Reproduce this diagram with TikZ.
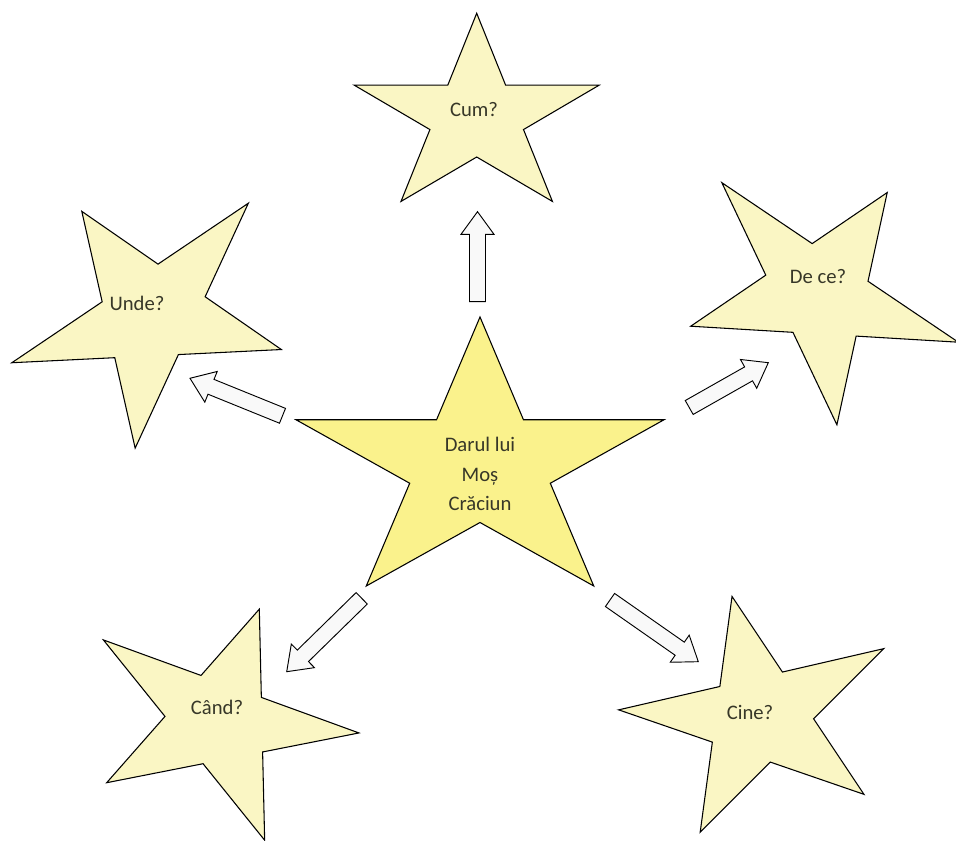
\documentclass[tikz,border=0pt]{standalone}
\usepackage{fontspec}
\setmainfont{Carlito}
\usetikzlibrary{calc}

\definecolor{galbenCentru}{RGB}{250,242,140}
\definecolor{galbenPal}{RGB}{250,246,196}
\definecolor{textStea}{RGB}{55,55,40}

% block arrow from #1 (tail) to #2 (tip)
\newcommand\sageata[2]{%
    \coordinate (cap) at ($(#2)!17pt!(#1)$);
    \draw[bloc] ($(#1)!6pt!90:(#2)$) -- ($(cap)!6pt!-90:(#1)$)
        -- ($(cap)!12.4pt!-90:(#1)$) -- (#2) -- ($(cap)!12.4pt!90:(#1)$)
        -- ($(cap)!6pt!90:(#1)$) -- ($(#1)!6pt!-90:(#2)$) -- cycle;
}

\begin{document}
\begin{tikzpicture}[
            x=0.75pt, y=0.75pt,
            stea/.style={
                draw=black,
                line width=0.8pt,
                line join=miter
            },
            eticheta/.style={
                font=\fontsize{15.5}{22}\selectfont,
                text=textStea,
                align=center,
                inner sep=0pt
            },
            bloc/.style={
                draw=black,
                line width=0.7pt,
                fill=gray!5,
                line join=miter
            }
        ]
            \useasboundingbox (0,0) rectangle (956,841);

            % stelele
            \foreach \cx/\cy/\rot/\rx/\ry/\fil in {
                480/375.3/0/193.5/148.7/galbenCentru,
                476.7/723.7/0/128.8/104/galbenPal,
                151.7/526/34/150/125/galbenPal,
                819/547.3/-34/150/122/galbenPal,
                218.6/120/-20/143/119/galbenPal,
                759.7/124.7/13/143/123/galbenPal} {
                \begin{scope}[shift={(\cx,\cy)}, rotate=\rot, xscale=\rx, yscale=\ry]
                    \draw[stea, fill=\fil] (90:1)
                        \foreach \k in {1,...,4} {-- ({54+72*\k}:0.382) -- ({90+72*\k}:1)}
                        -- (54:0.382) -- cycle;
                \end{scope}
            }

            \node[eticheta] (darul) at (480,367) {Darul lui\\Moș\\Crăciun};
            \foreach \nume/\x/\y/\text in {
                cum/474/731/Cum?,
                unde/137/538/Unde?,
                dece/818/564/De ce?,
                cand/217/134/Când?,
                cine/750/129/Cine?} {
                \node[eticheta] (\nume) at (\x,\y) {\text};
            }

            % sagetile
            \foreach \nume/\xa/\ya/\xb/\yb in {
                cum/477.5/539.3/477.5/629.3,
                unde/282.5/425.2/190/462.7,
                dece/689.2/433.5/768.3/478.3,
                cand/361.7/242.7/286.7/169.3,
                cine/610/241/698.3/179.3} {
                \coordinate (\nume-coada) at (\xa,\ya);
                \coordinate (\nume-varf) at (\xb,\yb);
                \sageata{\nume-coada}{\nume-varf}
            }
        \end{tikzpicture}
\end{document}
